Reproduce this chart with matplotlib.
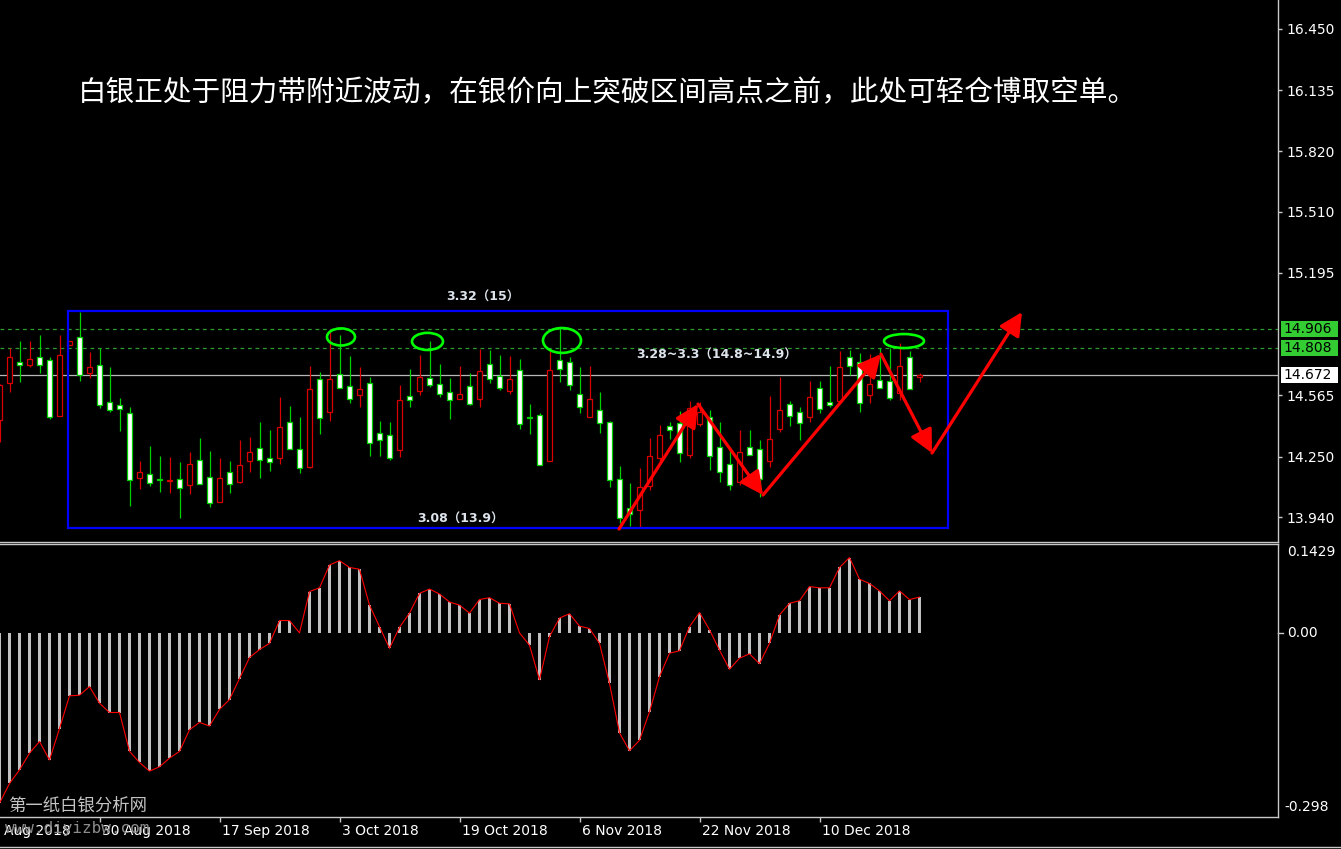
import matplotlib
matplotlib.use('Agg')
import matplotlib.pyplot as plt
from matplotlib.patches import Rectangle, Ellipse
from matplotlib.transforms import blended_transform_factory

plt.rcParams['font.family'] = ['DejaVu Sans', 'Noto Sans CJK SC']

# ---------------- data ----------------
bar_index = list(range(-1, 92))

opens = [14.439, 14.630, 14.737, 14.721, 14.762, 14.747, 14.459, 14.824, 14.865, 14.681,
         14.721, 14.531, 14.516, 14.475, 14.140, 14.161, 14.135, 14.124, 14.135, 14.104,
         14.233, 14.145, 14.017, 14.171, 14.120, 14.228, 14.295, 14.243, 14.243, 14.428,
         14.290, 14.197, 14.650, 14.480, 14.676, 14.614, 14.567, 14.630, 14.372, 14.361,
         14.284, 14.562, 14.588, 14.655, 14.624, 14.583, 14.547, 14.614, 14.547, 14.727,
         14.665, 14.588, 14.696, 14.450, 14.464, 14.228, 14.747, 14.737, 14.573, 14.454,
         14.490, 14.428, 14.135, 13.986, 13.976, 14.099, 14.243, 14.408, 14.423, 14.259,
         14.418, 14.454, 14.300, 14.212, 14.120, 14.300, 14.290, 14.228, 14.392, 14.521,
         14.480, 14.454, 14.603, 14.531, 14.536, 14.762, 14.737, 14.567, 14.645, 14.640,
         14.578, 14.762, 14.660]

highs = [14.622, 14.809, 14.845, 14.845, 14.876, 14.762, 14.876, 14.845, 14.994, 14.789,
         14.809, 14.711, 14.552, 14.506, 14.228, 14.305, 14.254, 14.248, 14.223, 14.274,
         14.346, 14.279, 14.243, 14.228, 14.336, 14.351, 14.428, 14.387, 14.557, 14.511,
         14.454, 14.716, 14.686, 14.907, 14.876, 14.768, 14.711, 14.660, 14.434, 14.428,
         14.619, 14.701, 14.773, 14.845, 14.727, 14.655, 14.716, 14.681, 14.804, 14.799,
         14.773, 14.768, 14.752, 14.521, 14.475, 14.799, 14.912, 14.762, 14.711, 14.716,
         14.583, 14.434, 14.202, 14.115, 14.192, 14.346, 14.413, 14.428, 14.485, 14.536,
         14.531, 14.490, 14.428, 14.300, 14.387, 14.387, 14.336, 14.562, 14.660, 14.536,
         14.506, 14.640, 14.640, 14.716, 14.794, 14.799, 14.783, 14.778, 14.809, 14.809,
         14.835, 14.794, 14.681]

lows = [14.326, 14.583, 14.635, 14.711, 14.681, 14.444, 14.459, 14.824, 14.640, 14.655,
        14.500, 14.480, 14.382, 13.996, 14.084, 14.099, 14.068, 14.063, 13.935, 14.058,
        14.109, 13.991, 14.017, 14.063, 14.115, 14.171, 14.140, 14.176, 14.212, 14.290,
        14.166, 14.192, 14.367, 14.434, 14.603, 14.526, 14.506, 14.254, 14.254, 14.233,
        14.248, 14.506, 14.567, 14.609, 14.557, 14.444, 14.547, 14.516, 14.506, 14.630,
        14.593, 14.573, 14.392, 14.367, 14.207, 14.228, 14.635, 14.593, 14.475, 14.454,
        14.372, 14.094, 13.909, 13.893, 13.888, 14.079, 14.223, 14.341, 14.223, 14.243,
        14.408, 14.182, 14.120, 14.079, 14.104, 14.259, 14.042, 14.197, 14.377, 14.408,
        14.336, 14.428, 14.475, 14.506, 14.536, 14.670, 14.480, 14.526, 14.603, 14.542,
        14.542, 14.598, 14.635]

closes = [14.619, 14.762, 14.721, 14.752, 14.721, 14.454, 14.773, 14.845, 14.670, 14.711,
          14.516, 14.490, 14.495, 14.130, 14.171, 14.115, 14.130, 14.130, 14.089, 14.212,
          14.109, 14.012, 14.140, 14.109, 14.207, 14.274, 14.233, 14.223, 14.403, 14.290,
          14.192, 14.598, 14.449, 14.650, 14.603, 14.547, 14.598, 14.320, 14.336, 14.243,
          14.542, 14.542, 14.660, 14.619, 14.573, 14.542, 14.573, 14.521, 14.691, 14.650,
          14.603, 14.650, 14.418, 14.448, 14.207, 14.696, 14.701, 14.619, 14.506, 14.547,
          14.423, 14.130, 13.935, 13.955, 14.094, 14.254, 14.361, 14.387, 14.269, 14.500,
          14.480, 14.254, 14.171, 14.104, 14.274, 14.259, 14.135, 14.341, 14.490, 14.459,
          14.423, 14.557, 14.495, 14.516, 14.711, 14.716, 14.526, 14.624, 14.603, 14.552,
          14.716, 14.598, 14.670]

oscillator = [-0.275, -0.243, -0.221, -0.194, -0.175, -0.205, -0.154, -0.101, -0.100, -0.086,
              -0.113, -0.128, -0.128, -0.191, -0.209, -0.223, -0.216, -0.202, -0.191, -0.156,
              -0.144, -0.150, -0.123, -0.107, -0.073, -0.039, -0.026, -0.016, 0.021, 0.021,
              0.001, 0.068, 0.074, 0.111, 0.118, 0.107, 0.104, 0.046, 0.011, -0.024,
              0.010, 0.033, 0.065, 0.072, 0.064, 0.051, 0.046, 0.033, 0.055, 0.058,
              0.049, 0.048, 0.001, -0.019, -0.075, -0.005, 0.025, 0.032, 0.012, 0.008,
              -0.016, -0.081, -0.161, -0.190, -0.173, -0.127, -0.070, -0.032, -0.028, 0.011,
              0.034, 0.006, -0.027, -0.058, -0.040, -0.033, -0.049, -0.016, 0.030, 0.049,
              0.053, 0.076, 0.074, 0.074, 0.107, 0.123, 0.088, 0.081, 0.069, 0.053,
              0.069, 0.055, 0.059]

date_tick_index = [-3, 9, 21, 33, 45, 57, 69, 81]
date_labels = ['14 Aug 2018', '30 Aug 2018', '17 Sep 2018', '3 Oct 2018', '19 Oct 2018',
               '6 Nov 2018', '22 Nov 2018', '10 Dec 2018']

price_ticks = [16.450, 16.135, 15.820, 15.510, 15.195, 14.565, 14.250, 13.940]
resistance_levels = [14.906, 14.808]
current_price = 14.672
osc_tick_labels = ['0.1429', '0.00', '-0.298']

range_box = (5.85, 93.85, 13.883, 15.0)   # x0, x1, low, high
ellipse_centers = [(33.15, 14.866), (41.8, 14.843), (55.25, 14.848), (89.45, 14.845)]
ellipse_sizes = [(2.8, 0.088), (3.1, 0.088), (3.8, 0.128), (4.0, 0.072)]
arrow_path = [(60.95, 13.878), (68.85, 14.521), (75.35, 14.053), (87.15, 14.778),
              (92.25, 14.269), (101.25, 14.994)]

title = '白银正处于阻力带附近波动，在银价向上突破区间高点之前，此处可轻仓博取空单。'
label_top = '3.32（15）'
label_bottom = '3.08（13.9）'
label_zone = '3.28~3.3（14.8~14.9）'

assert len(opens) == len(highs) == len(lows) == len(closes) == len(oscillator) == len(bar_index)

# ---------------- figure ----------------
W, H = 1341, 849
fig = plt.figure(figsize=(W / 100, H / 100), dpi=100, facecolor='black')

def fx(px):
    return px / W

def fy(py):
    return 1 - py / H

axis_color = '#c8c8c8'
ax_right = 1278
XLIM = (-0.95, 126.85)

ax1 = fig.add_axes([0, fy(541.5), fx(ax_right), 541.5 / H], facecolor='black')
ax2 = fig.add_axes([0, fy(817), fx(ax_right), (817 - 543.5) / H], facecolor='black')

for ax in (ax1, ax2):
    for s in ax.spines.values():
        s.set_color(axis_color)
        s.set_linewidth(1.0)
    ax.spines['left'].set_visible(False)
ax1.spines['top'].set_visible(False)

# candles
green_c = '#00d000'
red_c = '#d80000'
body_w = 0.56
for x, o, h, l, c in zip(bar_index, opens, highs, lows, closes):
    up = c >= o
    col = red_c if up else green_c
    ax1.vlines(x, l, h, color=col, lw=0.9, zorder=3)
    bottom = min(o, c)
    height = max(abs(c - o), 0.004)
    ax1.add_patch(Rectangle((x - body_w / 2, bottom), body_w, height,
                            facecolor='black' if up else 'white', edgecolor=col,
                            lw=0.9, zorder=4))

# horizontal levels
for lev in resistance_levels:
    ax1.axhline(lev, color='#2f9a2f', lw=0.9, ls=(0, (3, 3)), zorder=2)
ax1.axhline(current_price, color='#b8b8b8', lw=0.9, zorder=2)

# range box
x0, x1, lo, hi = range_box
ax1.add_patch(Rectangle((x0, lo), x1 - x0, hi - lo, fill=False,
                        edgecolor='#0000ff', lw=1.6, zorder=5))

# ellipses
for (cx, cy), (ew, eh) in zip(ellipse_centers, ellipse_sizes):
    ax1.add_patch(Ellipse((cx, cy), ew, eh, fill=False, edgecolor='#00ff00',
                          lw=1.9, zorder=6))

# arrows
for (xs, ys), (xe, ye) in zip(arrow_path[:-1], arrow_path[1:]):
    ax1.annotate('', xy=(xe, ye), xytext=(xs, ys),
                 arrowprops=dict(arrowstyle='-|>,head_length=0.7,head_width=0.35',
                                 color='#ff0000', lw=2.3, shrinkA=0, shrinkB=0,
                                 mutation_scale=20), zorder=7)

# text labels
lab_col = '#dde4ec'
ax1.text(47.35, 15.071, label_top, color=lab_col, fontsize=9, fontweight='bold',
         ha='center', va='center', zorder=8)
ax1.text(45.05, 13.929, label_bottom, color=lab_col, fontsize=9, fontweight='bold',
         ha='center', va='center', zorder=8)
ax1.text(70.75, 14.773, label_zone, color=lab_col, fontsize=9, fontweight='bold',
         ha='center', va='center', zorder=8)

fig.text(fx(78), fy(93), title, color='white', fontsize=20.6,
         family=['Noto Sans CJK SC', 'DejaVu Sans'], ha='left', va='center')

# price axis
ax1.yaxis.tick_right()
ax1.set_yticks(price_ticks)
ax1.set_yticklabels([f'{v:.3f}' for v in price_ticks])
ax1.tick_params(axis='y', colors=axis_color, labelcolor='white', labelsize=10,
                length=3, width=1, pad=3, direction='out')
ax1.tick_params(axis='x', bottom=False, labelbottom=False)

bt = blended_transform_factory(ax1.transAxes, ax1.transData)
box_h = 0.081
for lev, fc in [(resistance_levels[0], '#33cc33'), (resistance_levels[1], '#33cc33'),
                (current_price, 'white')]:
    ax1.add_patch(Rectangle((1281 / ax_right, lev - box_h / 2), 57 / ax_right, box_h,
                            transform=bt, facecolor=fc, edgecolor='none',
                            clip_on=False, zorder=10))
    ax1.text(1283.5 / ax_right, lev, f'{lev:.3f}', transform=bt, color='black',
             fontsize=10, ha='left', va='center', clip_on=False, zorder=11)

# oscillator
ax2.bar(bar_index, oscillator, width=0.3, color='#c0c0c0', zorder=2)
ax2.plot(bar_index, oscillator, color='#ff0000', lw=0.8, zorder=3)
ax2.set_yticks([])
bt2 = blended_transform_factory(ax2.transAxes, ax2.transData)
ax2.text(1287 / ax_right, 0.1429 - 0.0105, osc_tick_labels[0], transform=bt2,
         color='white', fontsize=10, ha='left', va='center')
ax2.text(1287 / ax_right, 0.0, osc_tick_labels[1], transform=bt2,
         color='white', fontsize=10, ha='left', va='center')
ax2.text(1284 / ax_right, -0.298 + 0.0176, osc_tick_labels[2], transform=bt2,
         color='white', fontsize=10, ha='left', va='center')
ax2.plot([1.0, 1.004], [0.0, 0.0], transform=bt2, color=axis_color, lw=1, clip_on=False)

# date axis: ticks + left-aligned labels
ax2.set_xticks(date_tick_index)
ax2.set_xticklabels([''] * len(date_tick_index))
ax2.tick_params(axis='x', colors=axis_color, length=3.5, width=1, direction='out')
bt3 = blended_transform_factory(ax2.transData, ax2.transAxes)
for xi, lab in zip(date_tick_index, date_labels):
    ax2.text(xi + 0.2, -0.0512, lab, transform=bt3, color='white', fontsize=10,
             ha='left', va='center', clip_on=False)

# limits (set last so ticks do not widen them)
ax1.set_xlim(*XLIM)
ax2.set_xlim(*XLIM)
ax1.set_ylim(13.814, 16.599)
ax2.set_ylim(-0.2973, 0.1458)

# bottom frame line
fig.add_artist(plt.Line2D([0, 1], [fy(847), fy(847)], transform=fig.transFigure,
                          color=axis_color, lw=1))

# watermarks
fig.text(fx(8), fy(806), '第一纸白银分析网', color='#c4c4c4', fontsize=12.5,
         family=['Noto Sans CJK SC'], ha='left', va='center')
fig.text(fx(5), fy(829), 'www.diyizbw.com', color='#8c8c8c', fontsize=11.5,
         family=['DejaVu Sans Mono'], ha='left', va='center')

fig.savefig('out.png', dpi=100, facecolor='black')
